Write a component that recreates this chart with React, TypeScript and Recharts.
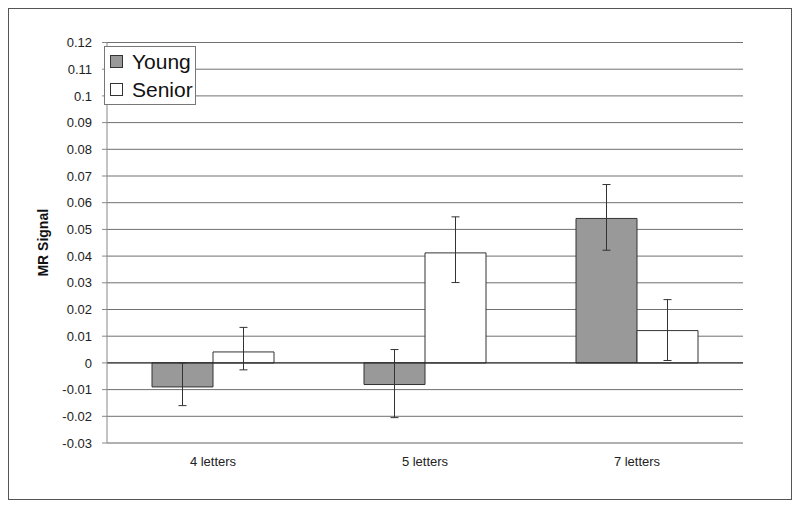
import { BarChart, Bar, XAxis, YAxis, CartesianGrid, ErrorBar, ReferenceLine, Legend } from 'recharts'

const categories = ['4 letters', '5 letters', '7 letters']
const young = [-0.009, -0.0081, 0.0541]
const youngErrLow = [0.007, 0.0124, 0.0119]
const youngErrHigh = [0.009, 0.0131, 0.0127]
const senior = [0.0041, 0.0412, 0.0121]
const seniorErrLow = [0.0067, 0.0111, 0.0112]
const seniorErrHigh = [0.0092, 0.0135, 0.0116]
const yTicks = [-0.03, -0.02, -0.01, 0, 0.01, 0.02, 0.03, 0.04, 0.05, 0.06, 0.07, 0.08, 0.09, 0.1, 0.11, 0.12]
const legendOrder = ['Young', 'Senior']

const data = categories.map((name, i) => ({
  name,
  young: young[i],
  youngErr: [youngErrLow[i], youngErrHigh[i]],
  senior: senior[i],
  seniorErr: [seniorErrLow[i], seniorErrHigh[i]],
}))

const FONT = '"Liberation Sans", Arial, sans-serif'

function LegendBox(props: any) {
  const items = [...(props.payload || [])].sort(
    (a: any, b: any) => legendOrder.indexOf(a.value) - legendOrder.indexOf(b.value)
  )
  return (
    <div
      style={{
        width: 90,
        height: 56,
        border: '1px solid #777',
        background: '#fff',
        fontFamily: FONT,
        fontSize: 21,
        color: '#111',
        paddingTop: 1,
      }}
    >
      {items.map((it: any) => (
        <div key={it.value} style={{ display: 'flex', alignItems: 'center', height: 28, marginLeft: 5 }}>
          <span
            style={{
              display: 'inline-block',
              width: 11,
              height: 11,
              border: '1px solid #333',
              background: it.color,
              marginRight: 9,
            }}
          />
          <span style={{ lineHeight: '28px' }}>{it.value}</span>
        </div>
      ))}
    </div>
  )
}

function AxisTitle(props: any) {
  const vb = props.viewBox
  const x = 33.7
  const y = vb.y + vb.height / 2
  return (
    <text
      x={x}
      y={y}
      transform={`rotate(-90 ${x} ${y})`}
      textAnchor="middle"
      dominantBaseline="central"
      fontFamily={FONT}
      fontSize={14}
      fontWeight="bold"
      fill="#111"
    >
      MR Signal
    </text>
  )
}

export default function App() {
  return (
    <div style={{ width: 784, height: 492, border: '1px solid #555', boxSizing: 'border-box', position: 'relative' }}>
      <BarChart
        width={782}
        height={490}
        data={data}
        margin={{ top: 33.5, right: 48, left: 0, bottom: 0 }}
        barGap={0}
        barSize={61}
      >
        <CartesianGrid vertical={false} stroke="#707070" />
        <XAxis
          dataKey="name"
          height={56}
          axisLine={{ stroke: '#aaa' }}
          tickLine={false}
          tickSize={6}
          tickMargin={8}
          tick={{ fontFamily: FONT, fontSize: 13, fill: '#222' }}
        />
        <YAxis
          width={98}
          domain={[-0.03, 0.12]}
          ticks={yTicks}
          allowDataOverflow
          interval={0}
          axisLine={{ stroke: '#888' }}
          tickLine={{ stroke: '#888' }}
          tickSize={5}
          tickMargin={10}
          tickFormatter={(v: number) => String(Number(v.toFixed(2)))}
          tick={{ fontFamily: FONT, fontSize: 13, fill: '#222' }}
          label={{ content: AxisTitle }}
        />
        <YAxis
          yAxisId="frame"
          orientation="right"
          width={0}
          tick={false}
          tickLine={false}
          axisLine={{ stroke: '#c8c8c8' }}
        />
        <ReferenceLine y={0} stroke="#222" />
        <Bar dataKey="young" name="Young" fill="#999999" stroke="#333" isAnimationActive={false}>
          <ErrorBar dataKey="youngErr" width={4} stroke="#333" strokeWidth={1} />
        </Bar>
        <Bar dataKey="senior" name="Senior" fill="#ffffff" stroke="#333" isAnimationActive={false}>
          <ErrorBar dataKey="seniorErr" width={4} stroke="#333" strokeWidth={1} />
        </Bar>
        <Legend
          layout="vertical"
          align="center"
          verticalAlign="middle"
          content={LegendBox}
          wrapperStyle={{ top: 36.7, left: 95, width: 'auto', height: 'auto' }}
        />
      </BarChart>
    </div>
  )
}
